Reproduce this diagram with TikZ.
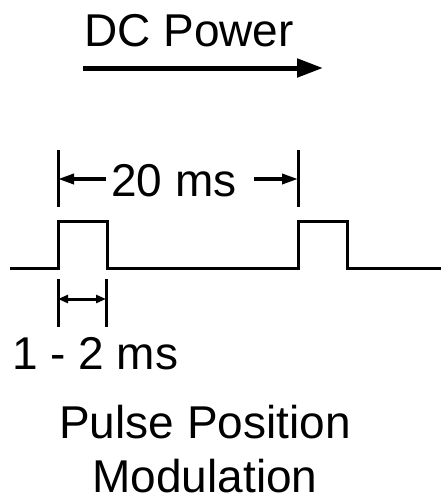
\documentclass[tikz,border=0pt]{standalone}
\usepackage{fontspec}
\setmainfont{Liberation Sans}
\usetikzlibrary{arrows.meta}
\begin{document}
\begin{tikzpicture}[x=1pt,y=-1pt,
  lbl/.style={inner sep=0pt, font=\fontsize{46}{52}\selectfont},
  wave/.style={line width=3pt, line join=miter},
  tick/.style={line width=3pt},
  dim/.style={line width=3.5pt, -{Triangle[length=16pt,width=10pt]}},
  dimsmall/.style={line width=3pt, {Triangle[length=10pt,width=8pt]}-{Triangle[length=10pt,width=8pt]}},
  power/.style={line width=5pt, -{Triangle[length=26pt,width=18pt]}}]
\useasboundingbox (0,0) rectangle (441,499);
% DC power
\node[lbl, anchor=base west] (dc) at (84,46) {DC Power};
\coordinate (pa) at (83,68);
\coordinate (pb) at (323,68);
\draw[power] (pa) -- (pb);
% waveform
\coordinate (w0) at (10,268);
\coordinate (r1) at (58,268);
\coordinate (r1t) at (58,221);
\coordinate (f1t) at (107,221);
\coordinate (f1) at (107,268);
\coordinate (r2) at (298,268);
\coordinate (r2t) at (298,221);
\coordinate (f2t) at (347,221);
\coordinate (f2) at (347,268);
\coordinate (w1) at (441,268);
\draw[wave] (w0) -- (r1) -- (r1t) -- (f1t) -- (f1) -- (r2) -- (r2t) -- (f2t) -- (f2) -- (w1);
% 20 ms
\coordinate (ta1) at (58,150);
\coordinate (ta2) at (58,207);
\coordinate (tb1) at (298,150);
\coordinate (tb2) at (298,207);
\draw[tick] (ta1) -- (ta2);
\draw[tick] (tb1) -- (tb2);
\node[lbl, anchor=base] (p20) at (174,196) {20 ms};
\coordinate (al) at (106,179);
\coordinate (al2) at (58,179);
\coordinate (ar) at (254,179);
\coordinate (ar2) at (298,179);
\draw[dim] (al) -- (al2);
\draw[dim] (ar) -- (ar2);
% 1-2 ms
\coordinate (sa1) at (58,279);
\coordinate (sa2) at (58,327);
\coordinate (sb1) at (106,279);
\coordinate (sb2) at (106,327);
\draw[tick] (sa1) -- (sa2);
\draw[tick] (sb1) -- (sb2);
\coordinate (da) at (58,299);
\coordinate (db) at (106,299);
\draw[dimsmall] (da) -- (db);
\node[lbl, anchor=base west] (w12) at (12,369) {1 - 2 ms};
% title
\node[lbl, anchor=base] (ppm1) at (205,438) {Pulse Position};
\node[lbl, anchor=base, text depth=0pt] (ppm2) at (205,492) {Modulation};
\end{tikzpicture}
\end{document}
